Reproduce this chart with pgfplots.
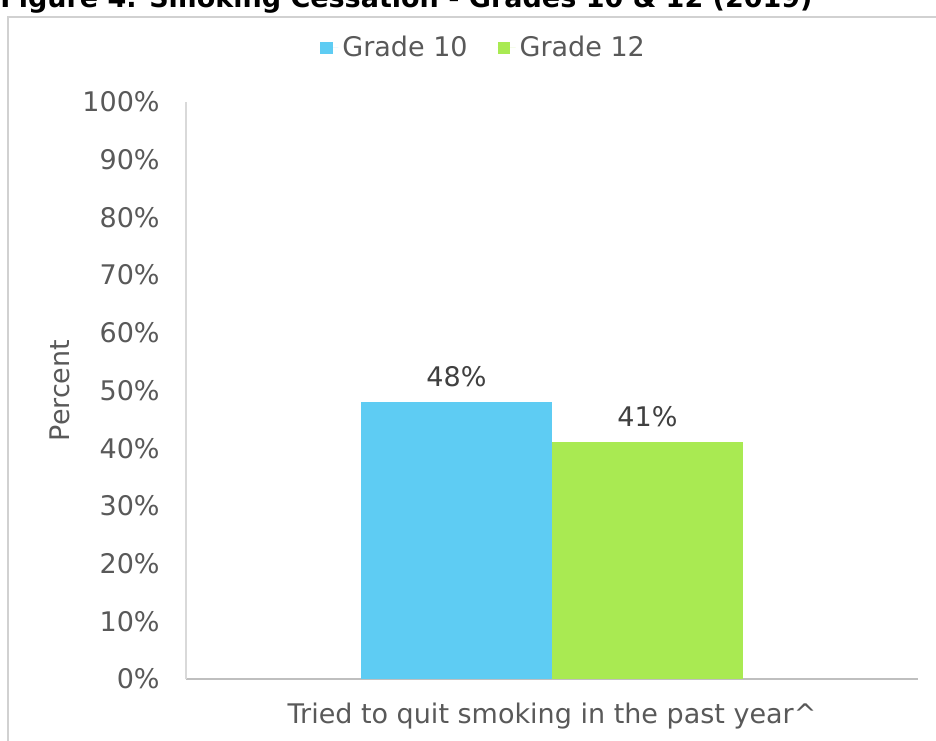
\documentclass[border=0pt]{standalone}
\usepackage{pgfplots}
\pgfplotsset{compat=1.18}
\usepackage{fontspec}
\setmainfont{DejaVu Sans}
\definecolor{gradeten}{HTML}{5ECCF3}
\definecolor{gradetwelve}{HTML}{A9EA52}
\definecolor{ticktext}{HTML}{595959}
\definecolor{valtext}{HTML}{404040}
\begin{document}
\begin{tikzpicture}[font=\fontsize{13.5}{16}\selectfont]
\useasboundingbox (-93pt,-30.5pt) rectangle (375pt,339.5pt);
\draw[black!18, line width=0.8pt] (-89pt,-40pt) -- (-89pt,331pt) -- (390pt,331pt);
\node[anchor=base west, inner sep=0pt, font=\fontsize{13.5}{16}\selectfont\bfseries] at (-93pt,335.5pt)
  {Figure 4. Smoking Cessation - Grades 10 \& 12 (2019)};
\begin{axis}[
  scale only axis,
  width=366pt, height=288.5pt,
  ybar=0pt,
  bar width=95.5pt,
  xmin=-0.5, xmax=0.5,
  ymin=0, ymax=100,
  xtick={0},
  xticklabels={Tried to quit smoking in the past year\^{}},
  ytick={0,10,...,100},
  yticklabel={\pgfmathprintnumber{\tick}\%},
  /pgf/number format/assume math mode=true,
  major tick length=0pt,
  axis x line*=bottom,
  axis y line*=left,
  x axis line style={black!25, line width=0.8pt, -},
  y axis line style={black!15, line width=0.8pt, -},
  tick label style={ticktext},
  yticklabel style={inner sep=0pt, anchor=east, xshift=-13pt},
  xticklabel style={inner sep=0pt, anchor=north, yshift=-12pt},
  ylabel={Percent},
  ylabel style={ticktext, at={(axis description cs:-0.172,0.5)}, anchor=center},
  nodes near coords={\pgfmathprintnumber{\pgfplotspointmeta}\%},
  nodes near coords style={valtext, inner sep=0pt, anchor=base, yshift=8pt, /pgf/number format/assume math mode=true},
  legend style={at={(axis description cs:0.4080,1.0936)}, anchor=center, draw=none,
    font=\fontsize{13.5}{16}\selectfont\color{ticktext}, column sep=0pt},
  legend columns=2,
  /tikz/every even column/.append style={column sep=13pt},
  legend image code/.code={\path (0pt,0pt) -- (9pt,0pt); \fill (0pt,-3.2pt) rectangle (6.2pt,3.2pt);},
]
\addplot[fill=gradeten, draw=none] coordinates {(0,48)};
\addlegendentry{Grade 10}
\addplot[fill=gradetwelve, draw=none] coordinates {(0,41)};
\addlegendentry{Grade 12}
\end{axis}
\end{tikzpicture}
\end{document}
